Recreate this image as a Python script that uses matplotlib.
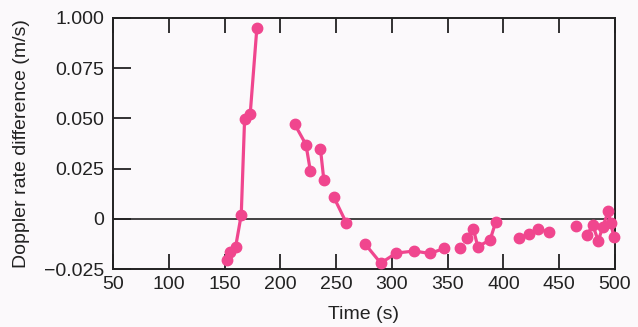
import numpy as np
import matplotlib.pyplot as plt

# data, split into the drawn segments
seg_times = [
    [152, 155, 160, 165, 168, 173, 179],
    [213, 223, 227],
    [236, 239],
    [248, 259],
    [276, 290, 304, 320, 334, 347],
    [361],
    [367, 373, 377, 388, 393],
    [414, 423, 431, 441],
    [465],
    [475, 480, 485, 489, 494, 496, 499],
]
seg_values = [
    [-0.0205, -0.0163, -0.0138, 0.002, 0.0495, 0.052, 0.095],
    [0.047, 0.037, 0.0237],
    [0.0348, 0.0195],
    [0.0108, -0.0018],
    [-0.0125, -0.022, -0.017, -0.016, -0.0172, -0.0147],
    [-0.0147],
    [-0.0097, -0.005, -0.0138, -0.0105, -0.0017],
    [-0.0093, -0.0077, -0.005, -0.0067],
    [-0.0035],
    [-0.008, -0.003, -0.011, -0.0038, 0.0037, -0.002, -0.0088],
]

yticks = [-0.025, 0, 0.025, 0.05, 0.075, 0.1]
ytick_labels = ['\u22120.025', '0', '0.025', '0.050', '0.075', '1.000']
xticks = [50, 100, 150, 200, 250, 300, 350, 400, 450, 500]

plt.rcParams['font.family'] = ['Liberation Sans', 'DejaVu Sans']
pink = '#F0468E'
bg = '#FBF9FB'
ink = '#222222'

fig = plt.figure(figsize=(6.38, 3.27), dpi=100, facecolor=bg)
ax = fig.add_axes([0.177, 0.177, 0.787, 0.768], facecolor=bg)

for t, v in zip(seg_times, seg_values):
    ax.plot(t, v, color=pink, lw=2.3, marker='o', ms=7.5, mec=pink, mfc=pink,
            clip_on=False, zorder=3)

ax.axhline(0, color=ink, lw=1.2, zorder=1)

ax.set_xlim(50, 500)
ax.set_ylim(-0.025, 0.1)
ax.set_xticks(xticks)
ax.set_yticks(yticks)
ax.set_yticklabels(ytick_labels)

ax.tick_params(axis='x', direction='in', length=11, width=1.3, top=True,
               labelsize=14, pad=5, color=ink, labelcolor=ink)
ax.tick_params(axis='y', direction='in', length=13, width=1.3, right=False,
               labelsize=14, pad=6, color=ink, labelcolor=ink)
for s in ax.spines.values():
    s.set_linewidth(1.4)
    s.set_color(ink)

ax.set_xlabel('Time (s)', fontsize=14, color=ink, labelpad=9)
ax.set_ylabel('Doppler rate difference (m/s)', fontsize=14, color=ink, labelpad=10)

fig.savefig('out.png', dpi=100, facecolor=bg)
